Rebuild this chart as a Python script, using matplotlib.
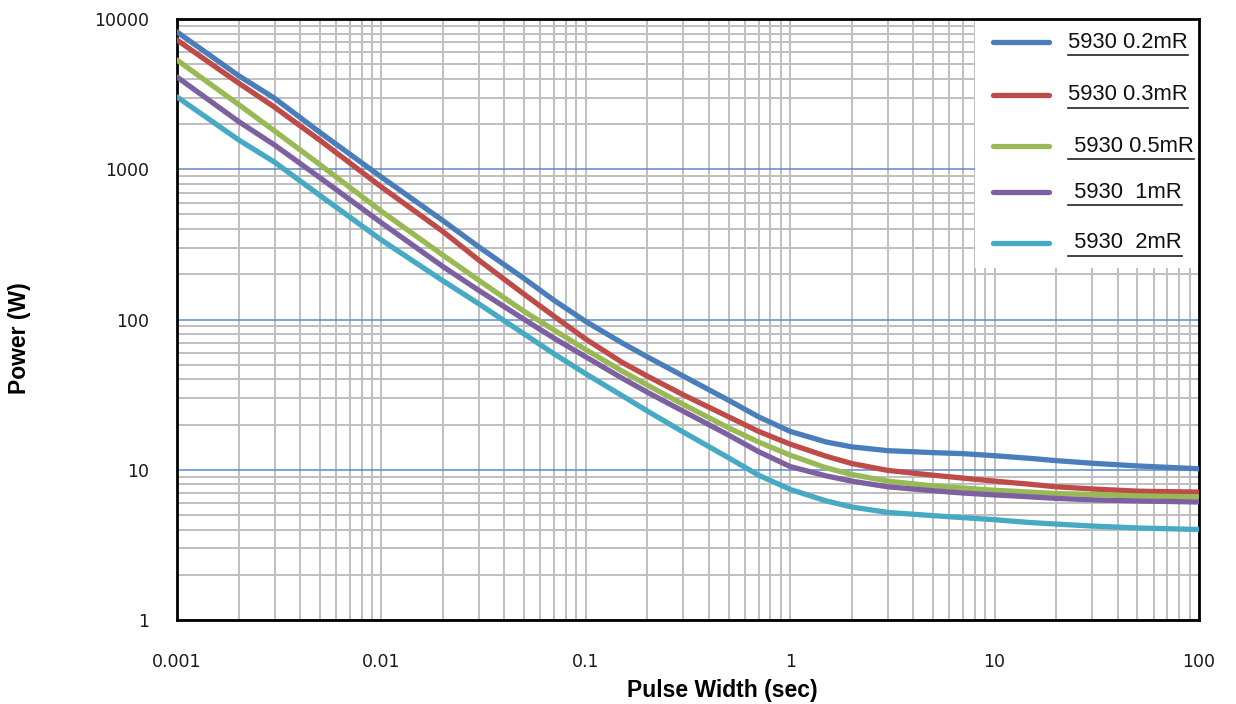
import matplotlib
matplotlib.use("Agg")
import matplotlib.pyplot as plt
from matplotlib.lines import Line2D
from matplotlib.patches import Rectangle
from matplotlib.ticker import LogLocator, FixedLocator, NullFormatter

# ---- data ----
pulse_width = [0.001, 0.002, 0.003, 0.005, 0.01, 0.02, 0.03, 0.05, 0.07, 0.1, 0.15, 0.2, 0.3,
               0.5, 0.7, 1, 1.5, 2, 3, 5, 7, 10, 15, 20, 30, 50, 100]
p_02mR = [8200, 4200, 2970, 1760, 887, 455, 304, 187, 134, 97, 70, 56.4, 42, 29, 22.5, 18,
          15.3, 14.2, 13.4, 13.0, 12.8, 12.4, 11.9, 11.5, 11.05, 10.6, 10.15]
p_03mR = [7250, 3750, 2590, 1560, 762, 385, 248, 147, 105, 74, 52, 42, 31.5, 22.5, 18, 14.8,
          12.3, 11.0, 9.9, 9.2, 8.8, 8.4, 8.0, 7.7, 7.45, 7.2, 7.1]
p_05mR = [5330, 2700, 1800, 1074, 525, 268, 182, 113, 85, 63, 45.5, 36.6, 27.2, 19.0, 15.3,
          12.5, 10.3, 9.3, 8.4, 7.8, 7.55, 7.3, 7.1, 6.95, 6.85, 6.7, 6.6]
p_1mR = [4110, 2080, 1450, 879, 440, 225, 156, 100, 75, 56.4, 40.8, 32.8, 24.5, 17.0, 13.2,
         10.5, 9.1, 8.4, 7.7, 7.25, 7.0, 6.8, 6.6, 6.45, 6.3, 6.2, 6.1]
p_2mR = [3030, 1570, 1115, 670, 338, 181, 127, 80, 59, 43.5, 31.2, 24.6, 17.8, 12.0, 9.2,
         7.4, 6.2, 5.65, 5.2, 4.95, 4.8, 4.65, 4.45, 4.35, 4.22, 4.1, 4.0]
series_labels = ["5930 0.2mR", "5930 0.3mR", " 5930 0.5mR", " 5930  1mR", " 5930  2mR"]
series_colors = ["#4a7ebb", "#be4b48", "#98b954", "#7d60a0", "#46aac5"]
x_ticks = [0.001, 0.01, 0.1, 1, 10, 100]
x_ticklabels = ["0.001", "0.01", "0.1", "1", "10", "100"]
y_ticks = [1, 10, 100, 1000, 10000]
y_ticklabels = ["1", "10", "100", "1000", "10000"]

W, H = 1236, 704
fig = plt.figure(figsize=(W / 100, H / 100), dpi=100)
ax = fig.add_axes([177 / W, (H - 620) / H, (1199 - 177) / W, (620 - 19) / H])
ax.set_xscale("log")
ax.set_yscale("log")
ax.set_xlim(0.001, 100)
ax.set_ylim(1, 10000)

# grid
ax.xaxis.set_major_locator(FixedLocator(x_ticks))
ax.yaxis.set_major_locator(FixedLocator(y_ticks))
ax.xaxis.set_minor_locator(LogLocator(base=10, subs=range(2, 10), numticks=20))
ax.yaxis.set_minor_locator(LogLocator(base=10, subs=range(2, 10), numticks=20))
ax.xaxis.set_minor_formatter(NullFormatter())
ax.yaxis.set_minor_formatter(NullFormatter())
ax.grid(True, which="minor", axis="both", color="#bfbfbf", linewidth=1.4)
ax.grid(True, which="major", axis="x", color="#bfbfbf", linewidth=1.4)
ax.grid(True, which="major", axis="y", color="#5b8bc9", linewidth=1.1)
ax.set_axisbelow(True)

ax.set_xticks(x_ticks)
ax.set_xticklabels(x_ticklabels)
ax.set_yticks(y_ticks)
ax.set_yticklabels(y_ticklabels)
ax.tick_params(which="both", length=0)
ax.tick_params(axis="x", pad=24, labelsize=12.5, labelcolor="#1a1a1a")
ax.tick_params(axis="y", pad=20, labelsize=12.5, labelcolor="#1a1a1a")
for lab in ax.get_xticklabels() + ax.get_yticklabels():
    lab.set_fontfamily("DejaVu Sans")

for s in ax.spines.values():
    s.set_linewidth(2.0)
    s.set_color("black")

series = [p_02mR, p_03mR, p_05mR, p_1mR, p_2mR]
for vals, col in zip(series, series_colors):
    ax.plot(pulse_width, vals, color=col, linewidth=3.8, solid_capstyle="round",
            solid_joinstyle="round", zorder=3)

# legend area (white box covering grid)
tr = fig.transFigure
ax.add_patch(Rectangle((975 / W, (H - 268) / H), (1199 - 975) / W, (268 - 19) / H,
                       transform=tr, facecolor="white", edgecolor="none", zorder=2.5))
leg_y = [42, 95, 146, 192, 243]
fig.canvas.draw()
renderer = fig.canvas.get_renderer()
for lab, col, yy in zip(series_labels, series_colors, leg_y):
    fy = (H - yy) / H
    fig.add_artist(Line2D([993 / W, 1049 / W], [fy, fy], transform=tr, color=col,
                          linewidth=3.8, solid_capstyle="round"))
    t = fig.text(1068 / W, fy, lab, transform=tr, fontsize=15.8, family="Liberation Sans",
                 va="center", ha="left", color="#111111")
    bb = t.get_window_extent(renderer=renderer)
    uy = (H - (yy + 13)) / H
    fig.add_artist(Line2D([bb.x0 / W, bb.x1 / W], [uy, uy], transform=tr, color="#222222",
                          linewidth=1.2))

fig.text(722 / W, (H - 690) / H, "Pulse Width (sec)", fontsize=16.5, fontweight="bold",
         family="Liberation Sans", ha="center", va="center")
fig.text(20 / W, (H - 338) / H, "Power (W)", fontsize=16.5, fontweight="bold",
         family="Liberation Sans", ha="center", va="center", rotation=90)

fig.savefig("out.png", dpi=100)
